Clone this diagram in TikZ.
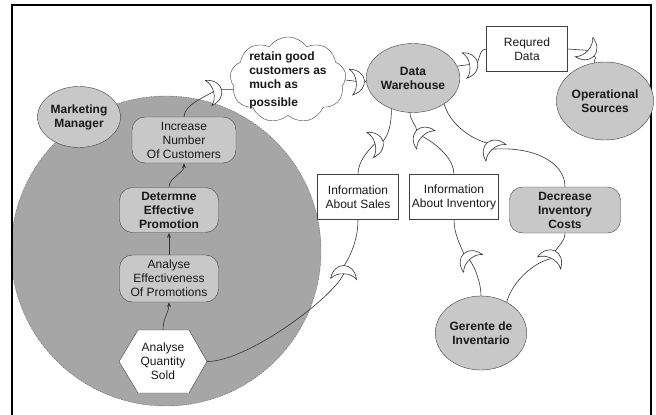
\documentclass[tikz,border=0pt]{standalone}
\usepackage{fontspec}
\setmainfont{Liberation Sans}
\usetikzlibrary{shapes.geometric,shapes.symbols,arrows.meta}
\definecolor{biggray}{HTML}{A6A6A6}
\definecolor{nodegray}{HTML}{C8C8C8}
\pgfdeclarelayer{back}
\pgfdeclarelayer{mid}
\pgfsetlayers{back,mid,main}
\begin{document}
\begin{tikzpicture}[x=1pt,y=-1pt,
  base/.style={font=\fontsize{12}{14}\selectfont, align=center, text=black!90, inner sep=1pt},
  bold/.style={font=\fontsize{12}{14}\selectfont\bfseries},
  actor/.style={base, bold, ellipse, draw=black!75, fill=nodegray},
  goal/.style={base, rectangle, rounded corners=13pt, draw=black!75, fill=nodegray},
  res/.style={base, rectangle, draw=black!75, fill=white},
  link/.style={draw=black!80, line width=0.6pt},
  arr/.style={link, -{Stealth[length=5pt,width=4pt]}},
  dep/.pic={\draw[link, fill=white] (0,-13) .. controls (18,-10) and (18,10) .. (0,13) .. controls (7,7) and (7,-7) .. (0,-13);
            \coordinate (-in) at (5,0); \coordinate (-out) at (13,0);}
]
\useasboundingbox (0,0) rectangle (656,415);
\begin{pgfonlayer}{back}
\fill[white] (0,0) rectangle (656,415);
\draw[fill=biggray, draw=black!60, dash pattern=on 1.5pt off 1pt] (166,251) circle[radius=155];
\end{pgfonlayer}
\draw[line width=2pt] (12,420) -- (12,5) -- (651,5) -- (651,420);

% nodes
\node[actor, minimum width=72pt, minimum height=61pt] (mm) at (79,117) {Marketing\\Manager};
\node[cloud, cloud puffs=9, cloud puff arc=110, cloud ignores aspect, draw=black!75, fill=white, minimum width=116pt, minimum height=86pt, inner sep=0pt,
  label={[base, bold, align=left]center:{retain good\\customers as\\much as\\[4pt]possible}}] (cl) at (288,80) {};
\node[goal, minimum width=104pt, minimum height=46pt] (inc) at (184,140) {Increase\\Number\\Of Customers};
\node[goal, bold, minimum width=99pt, minimum height=45pt] (det) at (169,210) {Determne\\Effective\\Promotion};
\node[goal, minimum width=99pt, minimum height=47pt] (aep) at (169,278.5) {Analyse\\Effectiveness\\Of Promotions};
\draw[fill=white, draw=black!75] (119,361.5) -- (138,330) -- (189,330) -- (207,361.5) -- (189,393) -- (138,393) -- cycle;
\node[base, minimum width=88pt, minimum height=63pt] (aqs) at (163,361.5) {Analyse\\Quantity\\Sold};
\node[actor, minimum width=76pt, minimum height=69pt] (dw) at (413,78) {Data\\Warehouse};
\node[res, minimum width=81pt, minimum height=45pt] (rd) at (527,49) {Requred\\Data};
\node[actor, minimum width=86pt, minimum height=78pt] (os) at (605,101) {Operational\\Sources};
\node[res, minimum width=81pt, minimum height=45pt] (ias) at (358,197) {Information\\About Sales};
\node[res, minimum width=89pt, minimum height=45pt] (iai) at (454,197) {Information\\About Inventory};
\node[goal, bold, minimum width=111pt, minimum height=46pt] (dic) at (565,210) {Decrease\\Inventory\\Costs};
\node[actor, minimum width=84pt, minimum height=74pt] (gi) at (481,333) {Gerente de\\Inventario};

% dependency crescents
\pic[rotate=15] (c1) at (208.5,93) {dep};
\pic[rotate=8] (c2) at (351,82) {dep};
\pic[rotate=11] (c3) at (464.5,65.5) {dep};
\pic[rotate=-42] (c4) at (584,47) {dep};
\pic[rotate=15] (c5) at (370,145) {dep};
\pic[rotate=135] (c6) at (426,140) {dep};
\pic[rotate=130] (c7) at (496,153) {dep};
\pic[rotate=88] (c8) at (343.5,279) {dep};
\pic[rotate=134] (c9) at (473,263.5) {dep};
\pic[rotate=63] (c10) at (549,263) {dep};

% links
\begin{pgfonlayer}{mid}
\draw[link] (inc.north) .. controls +(0,-12) and +(-8,5) .. (c1-in);
\draw[link] (c1-out) -- (cl.190);
\draw[link] (cl.east) -- (c2-in);
\draw[link] (c2-out) -- (dw.185);
\draw[link] (dw.15) -- (c3-in);
\draw[link] (c3-out) .. controls +(3,-8) and +(-6,0) .. (rd.west);
\draw[link] (rd.east) -- (c4-in);
\draw[link] (c4-out) .. controls +(5,4) and +(-3,-3) .. (os.105);
\draw[link] (dw.235) .. controls +(0,15) and +(6,-6) .. (c5-out);
\draw[link] (c5-in) .. controls +(-8,8) and +(0,-12) .. (ias.north);
\draw[link] (dw.265) .. controls +(0,8) and +(0,-5) .. (c6-out);
\draw[link] (c6-in) .. controls +(15,8) and +(0,-15) .. (iai.north);
\draw[link] (dw.-40) .. controls +(8,25) and +(-10,-2) .. (c7-out);
\draw[link] (c7-in) .. controls +(40,-3) and +(0,-25) .. (dic.north);
\draw[link] (ias.south) .. controls +(0,22) and +(5,-8) .. (c8-out);
\draw[link] (c8-in) .. controls +(-12,25) and +(40,0) .. (aqs.east);
\draw[link] (iai.south) .. controls +(0,15) and +(-3,-8) .. (c9-out);
\draw[link] (c9-in) .. controls +(6,8) and +(0,-12) .. (gi.north);
\draw[link] (dic.south) .. controls +(0,8) and +(3,-5) .. (c10-out);
\draw[link] (c10-in) .. controls +(-22,5) and +(3,-15) .. (gi.50);
\end{pgfonlayer}

% decomposition arrows inside the boundary
\draw[arr] (aqs.north) .. controls +(0,-12) and +(0,10) .. (aep.south);
\draw[arr] (aep.north) -- (det.south);
\draw[arr] (det.north) .. controls +(0,-10) and +(0,10) .. (inc.south);
\end{tikzpicture}
\end{document}
